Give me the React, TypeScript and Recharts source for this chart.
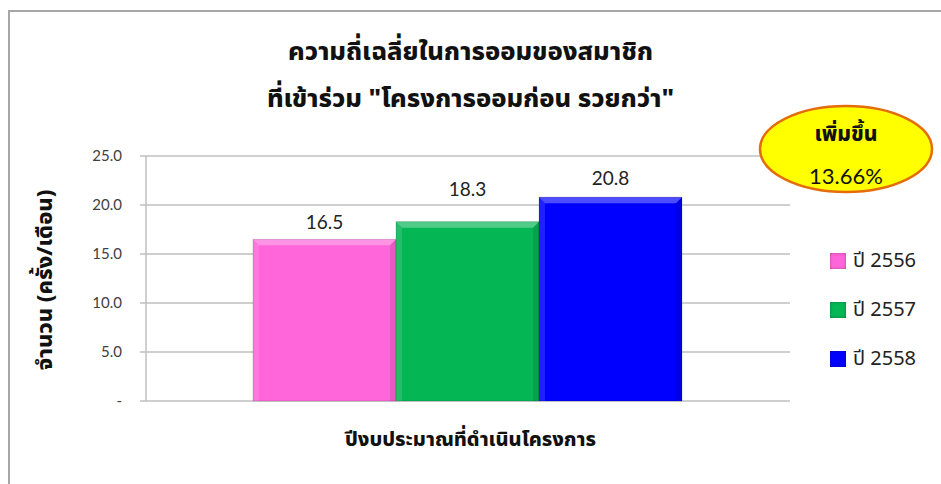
import React from "react";
import { BarChart, Bar, YAxis, XAxis, CartesianGrid, LabelList } from "recharts";

// values
const categories = ["ปีงบประมาณที่ดำเนินโครงการ"];
const seriesNames = ["ปี 2556", "ปี 2557", "ปี 2558"];
const seriesKeys = ["y2556", "y2557", "y2558"];
const seriesValues = [16.5, 18.3, 20.8];
const seriesColors = ["#ff66d9", "#05b655", "#0000ff"];
const yTicks = [0, 5, 10, 15, 20, 25];
const titleLines = ["ความถี่เฉลี่ยในการออมของสมาชิก", 'ที่เข้าร่วม "โครงการออมก่อน รวยกว่า"'];
const badgeLines = ["เพิ่มขึ้น", "13.66%"];
const yLabel = "จำนวน (ครั้ง/เดือน)";

// labels in the original were nudged by hand
const labelOffsets = [10, 26, 12];

const data = categories.map((name) => {
    const row: Record<string, string | number> = { name };
    seriesKeys.forEach((k, i) => { row[k] = seriesValues[i]; });
    return row;
});

const thaiFont = "'Noto Sans Thai', 'Noto Sans', Tahoma, sans-serif";
const numFont = "Lato, 'Open Sans', sans-serif";

const BevelBar = (props: any) => {
    const { x, y, width, height, fill } = props;
    if (!width || !height) return null;
    const b = 6;
    return (
        <g>
            <rect x={x} y={y} width={width} height={height} fill={fill} />
            <polygon points={`${x},${y} ${x + width},${y} ${x + width - b},${y + b} ${x + b},${y + b}`} fill="#ffffff" opacity={0.3} />
            <polygon points={`${x},${y} ${x + b},${y + b} ${x + b},${y + height} ${x},${y + height}`} fill="#ffffff" opacity={0.12} />
            <polygon points={`${x + width},${y} ${x + width - b},${y + b} ${x + width - b},${y + height} ${x + width},${y + height}`} fill="#000000" opacity={0.1} />
            <rect x={x} y={y} width={width} height={height} fill="none" stroke="#000" strokeOpacity={0.15} />
        </g>
    );
};

const LegendBox = () => (
    <div style={{ position: "absolute", left: 830, top: 236, display: "flex", flexDirection: "column" }}>
        {seriesNames.map((n, i) => (
            <div key={n} style={{ display: "flex", alignItems: "center", height: 49 }}>
                <span style={{ width: 16, height: 16, background: seriesColors[i], display: "inline-block", marginRight: 7, boxShadow: "inset 0 0 3px rgba(0,0,0,0.35)" }} />
                <span style={{ fontFamily: thaiFont, fontSize: 20, color: "#222" }}>{n}</span>
            </div>
        ))}
    </div>
);

export default function App() {
    return (
        <div style={{ position: "absolute", left: 0, top: 0, width: 941, height: 484, background: "#fff", overflow: "hidden" }}>
            {/* frame */}
            <div style={{ position: "absolute", left: 8, top: 10, width: 940, height: 480, borderLeft: "2px solid #a6a6a6", borderTop: "2px solid #a6a6a6" }} />

            {titleLines.map((t, i) => (
                <div key={i} style={{ position: "absolute", left: 0, width: 941, top: 34 + i * 47, textAlign: "center", fontFamily: thaiFont, fontWeight: 800, fontSize: 25.5, lineHeight: "36px", color: "#111" }}>{t}</div>
            ))}

            <BarChart width={941} height={484} data={data} margin={{ top: 156, right: 151, bottom: 83, left: 0 }} barCategoryGap={107} barGap={0} style={{ position: "absolute", left: 0, top: 0 }}>
                <CartesianGrid vertical={false} stroke="#bfbfbf" strokeWidth={1.5} />
                <XAxis dataKey="name" hide />
                <YAxis
                    width={146}
                    domain={[0, 25]}
                    ticks={yTicks}
                    interval={0}
                    tickFormatter={(v: number) => (v === 0 ? "-" : v.toFixed(1))}
                    tick={{ fill: "#404040", fontSize: 15, fontFamily: numFont }}
                    tickSize={6}
                    tickMargin={18}
                    axisLine={{ stroke: "#bfbfbf", strokeWidth: 1.5 }}
                    tickLine={{ stroke: "#bfbfbf", strokeWidth: 1.5 }}
                />
                {seriesKeys.map((k, i) => (
                    <Bar key={k} dataKey={k} name={seriesNames[i]} fill={seriesColors[i]} shape={<BevelBar />} isAnimationActive={false}>
                        <LabelList dataKey={k} position="top" offset={labelOffsets[i]} formatter={(v: any) => Number(v).toFixed(1)} style={{ fill: "#222", fontSize: 19, fontFamily: numFont }} />
                    </Bar>
                ))}
            </BarChart>

            <LegendBox />

            {/* y axis title */}
            <div style={{ position: "absolute", left: 45, top: 280, transform: "translate(-50%, -50%) rotate(-90deg)", whiteSpace: "nowrap", fontFamily: thaiFont, fontWeight: 800, fontSize: 22, color: "#111" }}>{yLabel}</div>

            {/* x axis title */}
            <div style={{ position: "absolute", left: 0, width: 941, top: 424, textAlign: "center", fontFamily: thaiFont, fontWeight: 800, fontSize: 20, lineHeight: "32px", color: "#111" }}>{categories[0]}</div>

            {/* increase badge */}
            <svg width={941} height={484} style={{ position: "absolute", left: 0, top: 0, pointerEvents: "none" }}>
                <ellipse cx={846} cy={149} rx={86} ry={43} fill="#ffff00" stroke="#e46c0a" strokeWidth={2.5} />
                <text x={846} y={141} textAnchor="middle" fontFamily={thaiFont} fontWeight={800} fontSize={21} fill="#111">{badgeLines[0]}</text>
                <text x={846} y={184} textAnchor="middle" fontFamily={numFont} fontSize={22} fill="#111">{badgeLines[1]}</text>
            </svg>
        </div>
    );
}
